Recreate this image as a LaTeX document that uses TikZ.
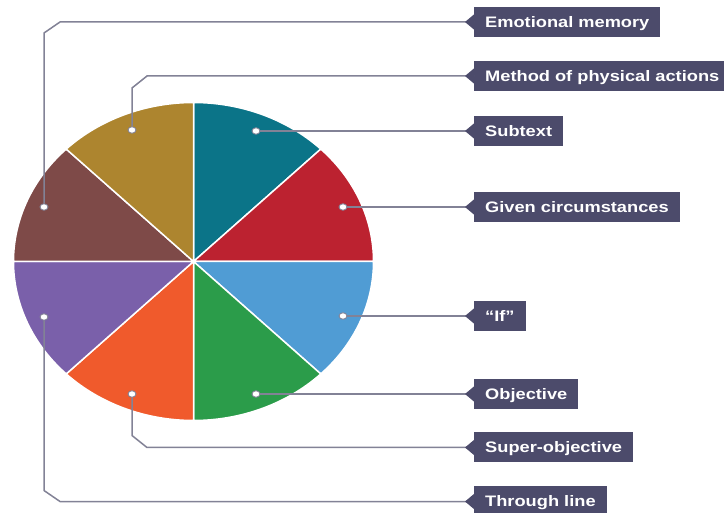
\documentclass[tikz,border=0pt]{standalone}
\usepackage{fontspec}
\usepackage{xcolor}
\usepackage{tikz}
\usetikzlibrary{calc,shapes.geometric}
\newfontfamily\lblfont[FakeStretch=1.2]{Liberation Sans}
\definecolor{tq}{RGB}{11,116,136}
\definecolor{rd}{RGB}{188,34,48}
\definecolor{lb}{RGB}{80,156,212}
\definecolor{gn}{RGB}{43,156,74}
\definecolor{og}{RGB}{240,90,44}
\definecolor{pu}{RGB}{122,96,170}
\definecolor{bn}{RGB}{126,74,72}
\definecolor{gd}{RGB}{173,133,47}
\definecolor{bx}{RGB}{76,75,107}
\definecolor{ln}{RGB}{130,130,150}

\begin{document}
\begin{tikzpicture}[x=1pt,y=-1pt,
  lbl/.style={fill=bx,text=white,font=\lblfont\bfseries\fontsize{15.2}{18}\selectfont,
    anchor=west,inner xsep=11pt,inner ysep=0pt,minimum height=30pt,
    text height=11pt,text depth=0pt},
  dot/.style={ellipse,draw=ln,fill=white,line width=0.9pt,minimum width=8pt,
    minimum height=6.5pt,inner sep=0pt},
  lead/.style={draw=ln,line width=1.5pt},
  sep/.style={draw=white,line width=1.5pt}]
  \useasboundingbox (0,0) rectangle (724,513);
  \coordinate (ctr) at (193.5,261.5);

  % pie
  \filldraw[sep,fill=tq] (ctr) -- ++(270:180 and 159) arc[start angle=270,end angle=315,x radius=180,y radius=159] -- cycle;
  \filldraw[sep,fill=rd] (ctr) -- ++(315:180 and 159) arc[start angle=315,end angle=360,x radius=180,y radius=159] -- cycle;
  \filldraw[sep,fill=lb] (ctr) -- ++(0:180 and 159) arc[start angle=0,end angle=45,x radius=180,y radius=159] -- cycle;
  \filldraw[sep,fill=gn] (ctr) -- ++(45:180 and 159) arc[start angle=45,end angle=90,x radius=180,y radius=159] -- cycle;
  \filldraw[sep,fill=og] (ctr) -- ++(90:180 and 159) arc[start angle=90,end angle=135,x radius=180,y radius=159] -- cycle;
  \filldraw[sep,fill=pu] (ctr) -- ++(135:180 and 159) arc[start angle=135,end angle=180,x radius=180,y radius=159] -- cycle;
  \filldraw[sep,fill=bn] (ctr) -- ++(180:180 and 159) arc[start angle=180,end angle=225,x radius=180,y radius=159] -- cycle;
  \filldraw[sep,fill=gd] (ctr) -- ++(225:180 and 159) arc[start angle=225,end angle=270,x radius=180,y radius=159] -- cycle;

  % dots
  \node[dot] (d-em) at (44,207) {};
  \node[dot] (d-mpa) at (132,130) {};
  \node[dot] (d-sub) at (256,131) {};
  \node[dot] (d-gc) at (343,207) {};
  \node[dot] (d-if) at (343,316) {};
  \node[dot] (d-obj) at (256,394) {};
  \node[dot] (d-so) at (132,394) {};
  \node[dot] (d-tl) at (44,317) {};

  % labels
  \node[lbl] (em) at (474,22) {Emotional memory};
  \node[lbl] (mpa) at (474,76) {Method of physical actions};
  \node[lbl] (sub) at (474,131) {Subtext};
  \node[lbl] (gc) at (474,207) {Given circumstances};
  \node[lbl] (if) at (474,316) {“If”};
  \node[lbl] (obj) at (474,394) {Objective};
  \node[lbl] (so) at (474,447.5) {Super-objective};
  \node[lbl] (tl) at (474,501.5) {Through line};

  % leaders
  \draw[lead] (d-em) -- ($(d-em |- em.west)+(0,11)$) -- ($(d-em |- em.west)+(16,0)$) -- (em.west);
  \draw[lead] (d-mpa) -- ($(d-mpa |- mpa.west)+(0,12)$) -- ($(d-mpa |- mpa.west)+(15,0)$) -- (mpa.west);
  \draw[lead] (d-sub) -- (sub.west);
  \draw[lead] (d-gc) -- (gc.west);
  \draw[lead] (d-if) -- (if.west);
  \draw[lead] (d-obj) -- (obj.west);
  \draw[lead] (d-so) -- ($(d-so |- so.west)+(0,-12)$) -- ($(d-so |- so.west)+(15,0)$) -- (so.west);
  \draw[lead] (d-tl) -- ($(d-tl |- tl.west)+(0,-11)$) -- ($(d-tl |- tl.west)+(16,0)$) -- (tl.west);

  % tabs
  \foreach \b in {em,mpa,sub,gc,if,obj,so,tl}
    \fill[bx] ($(\b.west)+(0.5,-8)$) -- ++(-9.5,8) -- ++(9.5,8) -- cycle;
\end{tikzpicture}
\end{document}
